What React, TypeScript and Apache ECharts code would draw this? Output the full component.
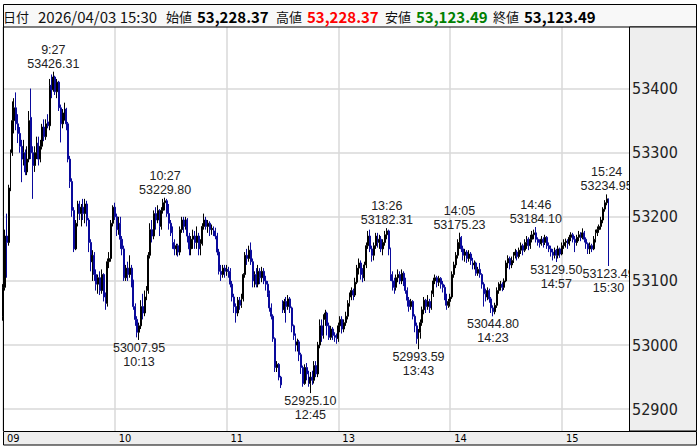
import React, { useEffect, useRef } from 'react';
import * as echarts from 'echarts';

// 1-minute bars [open, close, low, high], 9:00-11:29
const amBars: number[][] = [
  [53045,53090,53038,53095],[53090,53170,53085,53180],[53170,53160,53105,53205],[53160,53245,53155,53250],
  [53245,53300,53240,53305],[53300,53350,53295,53380],[53350,53370,53330,53385],[53370,53345,53335,53394],
  [53345,53330,53315,53360],[53330,53310,53300,53340],[53310,53290,53254,53320],[53290,53300,53280,53320],
  [53300,53270,53265,53305],[53270,53290,53265,53310],[53290,53350,53285,53365],[53355,53300,53290,53400],
  [53300,53280,53228,53310],[53280,53300,53270,53310],[53300,53315,53290,53325],[53315,53290,53280,53325],
  [53290,53310,53285,53320],[53310,53340,53305,53345],[53340,53325,53318,53352],[53325,53345,53320,53352],
  [53348,53342,53338,53360],[53342,53405,53335,53415],[53405,53398,53385,53422],[53398,53418,53395,53426.31],
  [53418,53395,53390,53420],[53395,53410,53385,53415],[53410,53370,53365,53412],[53370,53345,53316,53375],
  [53345,53362,53338,53368],[53362,53368,53350,53378],[53368,53345,53335,53370],[53345,53290,53285,53348],
  [53290,53255,53245,53295],[53255,53210,53200,53260],[53210,53150,53145,53215],[53150,53190,53148,53195],
  [53190,53220,53185,53225],[53220,53205,53195,53225],[53205,53215,53185,53220],[53215,53205,53195,53228],
  [53205,53220,53190,53228],[53220,53195,53185,53225],[53195,53160,53145,53198],[53160,53130,53115,53165],
  [53130,53140,53100,53148],[53140,53110,53100,53145],[53110,53095,53085,53118],[53095,53105,53080,53110],
  [53105,53085,53078,53115],[53085,53110,53080,53118],[53110,53075,53068,53112],[53075,53065,53055,53082],
  [53065,53130,53060,53135],[53130,53135,53120,53145],[53135,53190,53130,53195],[53190,53215,53185,53218],
  [53215,53200,53195,53222],[53200,53180,53170,53205],[53180,53190,53172,53200],[53190,53165,53150,53200],
  [53165,53150,53140,53170],[53150,53105,53100,53155],[53105,53120,53100,53125],[53120,53110,53100,53130],
  [53110,53120,53105,53140],[53120,53100,53090,53125],[53100,53060,53055,53102],[53060,53040,53030,53065],
  [53040,53020,53012,53045],[53020,53030,53007.95,53035],[53030,53060,53025,53070],[53060,53050,53040,53080],
  [53050,53075,53045,53085],[53075,53085,53070,53092],[53085,53140,53080,53145],[53140,53180,53135,53190],
  [53180,53170,53160,53195],[53170,53205,53165,53210],[53205,53195,53180,53215],[53195,53210,53190,53218],
  [53210,53185,53170,53212],[53185,53210,53180,53215],[53210,53222,53205,53228],[53222,53225,53210,53229.8],
  [53225,53205,53200,53228],[53205,53190,53180,53220],[53190,53175,53170,53195],[53175,53160,53150,53185],
  [53160,53150,53140,53165],[53150,53155,53140,53158],[53155,53145,53138,53158],[53145,53180,53140,53185],
  [53180,53195,53175,53200],[53195,53185,53175,53200],[53185,53195,53180,53200],[53195,53170,53160,53198],
  [53170,53150,53140,53175],[53150,53165,53140,53170],[53165,53170,53150,53180],[53170,53160,53150,53178],
  [53160,53170,53150,53185],[53170,53150,53140,53175],[53150,53158,53140,53165],[53158,53185,53155,53190],
  [53185,53195,53180,53205],[53195,53185,53180,53200],[53185,53190,53175,53195],[53190,53180,53170,53193],
  [53180,53182,53172,53188],[53182,53178,53170,53185],[53178,53170,53165,53183],[53170,53145,53140,53175],
  [53145,53115,53110,53150],[53115,53110,53100,53125],[53110,53120,53105,53125],[53120,53115,53105,53125],
  [53115,53118,53108,53125],[53118,53115,53105,53122],[53115,53095,53090,53120],[53095,53075,53068,53100],
  [53075,53060,53050,53080],[53060,53050,53035,53065],[53050,53070,53045,53075],[53070,53062,53055,53075],
  [53062,53072,53058,53080],[53072,53110,53068,53112],[53110,53140,53105,53145],[53140,53135,53125,53150],
  [53135,53148,53130,53155],[53148,53130,53125,53160],[53130,53100,53090,53135],[53100,53110,53090,53115],
  [53110,53095,53090,53120],[53095,53115,53090,53125],[53115,53105,53095,53120],[53105,53115,53098,53122],
  [53115,53100,53095,53120],[53100,53095,53085,53108],[53095,53080,53075,53100],[53080,53058,53052,53085],
  [53058,53045,53040,53065],[53045,53010,53005,53048],[53010,52965,52958,53012],[52965,52970,52958,52975],
  [52970,52950,52945,52972],[52950,52938,52933,52952],
];

// 1-minute bars [open, close, low, high], 12:30-15:24
const pmBars: number[][] = [
  [53065,53055,53050,53070],[53055,53068,53050,53072],[53068,53060,53035,53075],[53060,53072,53055,53078],
  [53072,53058,53050,53075],[53058,53030,53020,53060],[53030,53015,53008,53032],[53015,53000,52990,53018],
  [53000,53005,52990,53010],[53005,52985,52975,53008],[52985,52965,52955,52988],[52965,52940,52935,52968],
  [52940,52965,52938,52970],[52965,52955,52945,52972],[52955,52940,52935,52960],[52940,52950,52925.10,52958],
  [52950,52945,52938,52960],[52945,52968,52940,52975],[52968,52955,52950,52975],[52955,53000,52950,53005],
  [53000,53030,52995,53040],[53030,53015,53005,53040],[53015,53040,53010,53048],[53040,53050,53030,53055],
  [53050,53030,53015,53052],[53030,53012,53008,53035],[53012,53025,53008,53030],[53025,53015,53008,53028],
  [53015,53012,53005,53020],[53012,53010,53002,53018],[53010,53030,53005,53035],[53030,53040,53020,53045],
  [53040,53025,53018,53045],[53025,53035,53020,53040],[53035,53045,53030,53052],[53045,53065,53040,53070],
  [53065,53075,53060,53082],[53075,53085,53070,53090],[53085,53078,53070,53088],[53078,53098,53075,53105],
  [53098,53120,53095,53125],[53120,53128,53110,53135],[53128,53110,53102,53132],[53110,53105,53098,53120],
  [53105,53125,53100,53130],[53125,53155,53120,53160],[53155,53170,53150,53178],[53170,53150,53145,53180],
  [53150,53140,53130,53155],[53140,53155,53132,53160],[53155,53170,53150,53175],[53170,53160,53152,53175],
  [53160,53165,53150,53172],[53165,53150,53145,53170],[53150,53160,53140,53165],[53160,53172,53155,53178],
  [53172,53178,53165,53182.31],[53178,53150,53140,53180],[53150,53110,53100,53152],[53110,53100,53085,53115],
  [53100,53090,53080,53105],[53090,53105,53085,53110],[53105,53110,53098,53118],[53110,53100,53095,53115],
  [53100,53112,53095,53118],[53112,53100,53092,53115],[53100,53085,53080,53105],[53085,53070,53060,53090],
  [53070,53060,53052,53075],[53060,53068,53055,53072],[53068,53045,53040,53070],[53045,53030,53020,53048],
  [53030,53010,53002,53035],[53010,53020,52993.59,53025],[53020,53035,53010,53040],[53035,53055,53030,53060],
  [53055,53070,53048,53075],[53070,53060,53050,53072],[53060,53068,53055,53078],[53068,53058,53050,53072],
  [53058,53080,53055,53085],[53080,53100,53075,53105],[53100,53105,53095,53110],[53105,53098,53090,53108],
  [53098,53104,53092,53108],[53104,53095,53088,53106],[53095,53090,53082,53100],[53090,53075,53070,53094],
  [53075,53062,53055,53080],[53062,53068,53058,53072],[53068,53075,53060,53080],[53075,53110,53072,53115],
  [53110,53125,53105,53130],[53125,53140,53120,53145],[53140,53160,53135,53165],[53160,53168,53150,53175.23],
  [53168,53150,53145,53170],[53150,53140,53132,53155],[53140,53145,53130,53150],[53145,53135,53128,53148],
  [53135,53142,53130,53148],[53142,53132,53125,53145],[53132,53125,53118,53136],[53125,53128,53118,53132],
  [53128,53112,53108,53130],[53112,53118,53108,53122],[53118,53110,53105,53128],[53110,53095,53088,53112],
  [53095,53080,53060,53098],[53080,53075,53068,53088],[53075,53085,53070,53090],[53085,53072,53066,53088],
  [53072,53058,53050,53075],[53058,53052,53044.80,53062],[53052,53062,53048,53066],[53062,53085,53058,53090],
  [53085,53092,53080,53098],[53092,53095,53085,53100],[53095,53090,53084,53098],[53090,53100,53086,53104],
  [53100,53128,53098,53132],[53128,53135,53120,53140],[53135,53125,53118,53138],[53125,53132,53120,53138],
  [53132,53140,53128,53145],[53140,53145,53135,53150],[53145,53138,53132,53148],[53138,53148,53135,53152],
  [53148,53155,53142,53160],[53155,53148,53140,53158],[53148,53160,53145,53165],[53160,53165,53150,53170],
  [53165,53155,53148,53168],[53155,53165,53150,53172],[53165,53172,53160,53178],[53172,53175,53165,53180],
  [53175,53165,53160,53184.10],[53165,53160,53155,53168],[53160,53158,53152,53165],[53158,53165,53155,53170],
  [53165,53160,53152,53168],[53160,53168,53156,53172],[53168,53155,53150,53170],[53155,53150,53145,53160],
  [53150,53145,53138,53155],[53145,53140,53132,53150],[53140,53148,53135,53152],[53148,53140,53129.50,53150],
  [53140,53150,53135,53155],[53150,53142,53136,53152],[53142,53155,53140,53160],[53155,53160,53150,53165],
  [53160,53162,53152,53166],[53162,53158,53150,53165],[53158,53168,53155,53172],[53168,53172,53162,53176],
  [53172,53165,53160,53175],[53165,53160,53145,53170],[53160,53168,53155,53172],[53168,53172,53162,53178],
  [53172,53168,53162,53176],[53168,53175,53165,53182],[53175,53165,53160,53178],[53165,53158,53150,53168],
  [53158,53150,53142,53160],[53150,53155,53142,53160],[53155,53150,53145,53158],[53150,53165,53148,53170],
  [53165,53175,53160,53180],[53175,53180,53170,53185],[53180,53185,53175,53188],[53185,53195,53180,53200],
  [53195,53212,53190,53215],[53212,53222,53208,53226],[53222,53228,53218,53234.95],
];

// closing auction bar 15:30
const closeBars: number[][] = [[53228.37, 53123.49, 53123.49, 53228.37]];
const closeTimes = ['15:30'];

const yTicks = [52900, 53000, 53100, 53200, 53300, 53400];

const extremes = [
  { time: '9:27', value: 53426.31, side: 'top' },
  { time: '10:13', value: 53007.95, side: 'bottom' },
  { time: '10:27', value: 53229.80, side: 'top' },
  { time: '12:45', value: 52925.10, side: 'bottom' },
  { time: '13:26', value: 53182.31, side: 'top' },
  { time: '13:43', value: 52993.59, side: 'bottom' },
  { time: '14:05', value: 53175.23, side: 'top' },
  { time: '14:23', value: 53044.80, side: 'bottom' },
  { time: '14:46', value: 53184.10, side: 'top' },
  { time: '14:57', value: 53129.50, side: 'bottom' },
  { time: '15:24', value: 53234.95, side: 'top' },
  { time: '15:30', value: 53123.49, side: 'bottom' },
];

const headerItems = [
  { text: '日付', x: 3, kind: 'label' },
  { text: '2026/04/03 15:30', x: 38, kind: 'date' },
  { text: '始値', x: 166, kind: 'label' },
  { text: '53,228.37', x: 197, kind: 'value', color: '#000000' },
  { text: '高値', x: 276, kind: 'label' },
  { text: '53,228.37', x: 307, kind: 'value', color: '#ff0000' },
  { text: '安値', x: 385, kind: 'label' },
  { text: '53,123.49', x: 416, kind: 'value', color: '#008000' },
  { text: '終値', x: 493, kind: 'label' },
  { text: '53,123.49', x: 524, kind: 'value', color: '#000000' },
];

function minuteLabels(h0: number, m0: number, count: number): string[] {
  const out: string[] = [];
  for (let i = 0; i < count; i++) {
    const t = h0 * 60 + m0 + i;
    out.push(`${Math.floor(t / 60)}:${String(t % 60).padStart(2, '0')}`);
  }
  return out;
}

const NARROW = "'Liberation Sans Narrow', 'DejaVu Sans Condensed', 'Arial Narrow', sans-serif";
const JP = "'Noto Sans CJK JP', 'Noto Sans', sans-serif";
const DOWN = '#0a0a9c';

export default function App() {
  const ref = useRef<HTMLDivElement>(null);
  useEffect(() => {
    document.body.style.margin = '0';
    if (!ref.current) return;
    const chart = echarts.init(ref.current, null, { renderer: 'svg' });
    const times = [
      ...minuteLabels(9, 0, amBars.length),
      ...minuteLabels(12, 30, pmBars.length),
      ...closeTimes,
    ];
    const bars = [...amBars, ...pmBars, ...closeBars];
    const isHour = (_i: number, v: any) => String(v ?? '').endsWith(':00');

    const graphicEls: any[] = [
      { type: 'rect', z: 20, shape: { x: 3.5, y: 4.5, width: 693, height: 22.5 }, style: { fill: '#f8f8f8', stroke: '#000', lineWidth: 1 } },
      { type: 'rect', z: 20, shape: { x: 629.5, y: 27, width: 67, height: 404 }, style: { fill: '#eeeeee', stroke: '#000', lineWidth: 1 } },
      { type: 'rect', z: 20, shape: { x: 3.5, y: 431.5, width: 693, height: 13.5 }, style: { fill: '#eeeeee', stroke: '#000', lineWidth: 1 } },
      { type: 'line', z: 20, shape: { x1: 3.5, y1: 27, x2: 3.5, y2: 431 }, style: { stroke: '#000', lineWidth: 1 } },
      ...headerItems.map((h) => ({
        type: 'text',
        z: 21,
        x: h.x,
        y: 16,
        style: {
          text: h.text,
          fill: h.color || '#111',
          fontFamily: JP,
          fontSize: h.kind === 'label' ? 13 : 15,
          fontWeight: h.kind === 'value' ? 'bold' : 'normal',
          verticalAlign: 'middle',
          align: 'left',
        },
      })),
    ];

    chart.setOption({
      animation: false,
      grid: { left: 3, right: 71, top: 27, bottom: 17, containLabel: false },
      xAxis: [
        {
          type: 'category', data: times, boundaryGap: false, max: 336, z: 0,
          axisLine: { show: false }, axisTick: { show: false }, axisLabel: { show: false },
          splitLine: { show: true, interval: isHour, lineStyle: { color: '#d8d8d8', width: 1.5 } },
        },
        {
          type: 'category', data: times, boundaryGap: false, max: 336, z: 30, position: 'bottom',
          axisLine: { show: false }, axisTick: { show: false }, splitLine: { show: false },
          axisLabel: {
            show: true, interval: isHour, margin: 2, align: 'left', padding: [0, 0, 0, 4],
            formatter: (v: string) => v.split(':')[0].padStart(2, '0'),
            fontFamily: NARROW, fontSize: 11, color: '#000',
          },
        },
      ],
      yAxis: [
        {
          type: 'value', min: 52866, max: 53496, position: 'right', z: 0,
          axisLine: { show: false },
          axisTick: { show: false, customValues: yTicks },
          axisLabel: { show: false, customValues: yTicks },
          splitLine: { show: true, lineStyle: { color: '#d8d8d8', width: 1.5 } },
        },
        {
          type: 'value', min: 52866, max: 53496, position: 'right', z: 30,
          axisLine: { show: false },
          axisTick: { show: false, customValues: yTicks },
          axisLabel: {
            show: true, customValues: yTicks, margin: 3, fontFamily: NARROW, fontSize: 16, color: '#222',
            formatter: (v: number) => String(v),
          },
          splitLine: { show: false },
        },
      ],
      graphic: { z: 20, elements: graphicEls },
      series: [
        {
          type: 'candlestick',
          xAxisIndex: 0,
          yAxisIndex: 0,
          data: bars,
          barWidth: 1.4,
          silent: true,
          itemStyle: { color: '#000', color0: DOWN, borderColor: '#000', borderColor0: DOWN, borderWidth: 1 },
          markPoint: {
            symbol: 'circle',
            symbolSize: 0,
            silent: true,
            z: 5,
            label: { fontFamily: "'Liberation Sans', Arial, sans-serif", fontSize: 12.5, lineHeight: 14, color: '#222', distance: 1 },
            data: extremes.map((e) => ({
              coord: [e.time, e.value],
              label: {
                position: e.side,
                formatter: e.side === 'top' ? `${e.time}\n${e.value.toFixed(2)}` : `${e.value.toFixed(2)}\n${e.time}`,
              },
            })),
          },
        },
      ],
    });
    return () => chart.dispose();
  }, []);
  return <div ref={ref} style={{ width: 700, height: 448 }} />;
}
